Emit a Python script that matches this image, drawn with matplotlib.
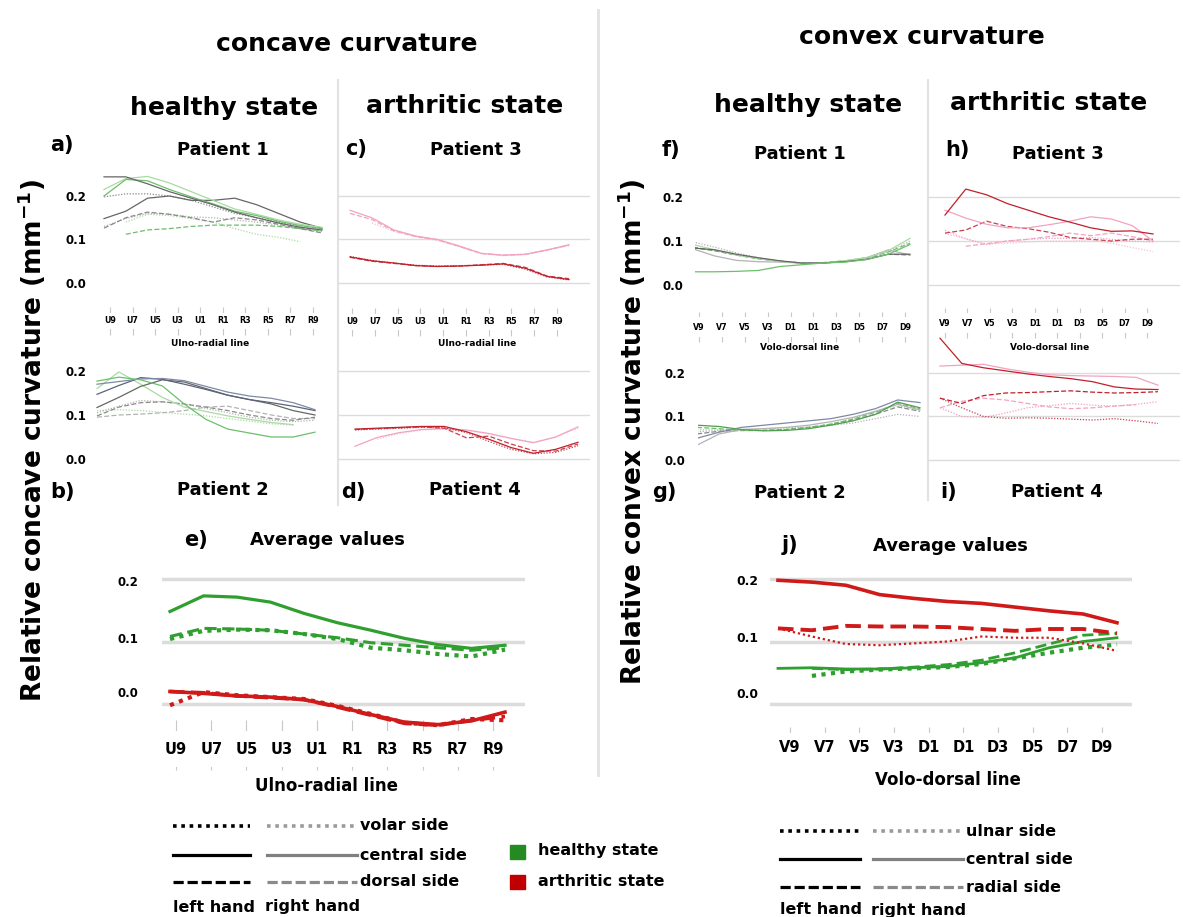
import numpy as np
import matplotlib.pyplot as plt
from matplotlib.patches import Rectangle

plt.rcParams['font.family'] = ['DejaVu Sans']
plt.rcParams['font.weight'] = 'bold'
plt.rcParams['mathtext.default'] = 'bf'

nan = np.nan

# axis labels
ur_ticks = ['U9', 'U7', 'U5', 'U3', 'U1', 'R1', 'R3', 'R5', 'R7', 'R9']
vd_ticks = ['V9', 'V7', 'V5', 'V3', 'D1', 'D1', 'D3', 'D5', 'D7', 'D9']
y_ticks = [0.0, 0.1, 0.2]
y_labels = ['0.0', '0.1', '0.2']

# a) concave, healthy, patient 1
a1 = [0.244, 0.244, 0.228, 0.210, 0.195, 0.180, 0.163, 0.150, 0.138, 0.128, 0.122]
a2 = [0.200, 0.238, 0.235, 0.215, 0.198, 0.182, 0.165, 0.155, 0.142, 0.132, 0.125]
a3 = [0.215, 0.240, 0.245, 0.230, 0.210, 0.190, 0.170, 0.158, 0.145, 0.135, 0.128]
a4 = [0.148, 0.165, 0.195, 0.200, 0.190, 0.190, 0.195, 0.180, 0.160, 0.140, 0.126]
a5 = [0.198, 0.205, 0.205, 0.200, 0.190, 0.175, 0.160, 0.150, 0.140, 0.130, 0.120]
a6 = [0.126, 0.150, 0.163, 0.158, 0.150, 0.140, 0.150, 0.145, 0.135, 0.125, 0.115]
a7 = [nan, 0.112, 0.122, 0.125, 0.130, 0.133, 0.133, 0.133, 0.130, 0.125, 0.120]
a8 = [nan, 0.140, 0.158, 0.155, 0.148, 0.140, 0.125, 0.112, 0.105, 0.095, nan]
a9 = [0.130, 0.148, 0.160, 0.158, 0.152, 0.150, 0.145, 0.140, 0.133, 0.125, 0.117]

# b) concave, healthy, patient 2
b1 = [0.177, 0.186, 0.180, 0.166, 0.125, 0.090, 0.068, 0.059, 0.050, 0.050, 0.061]
b2 = [0.160, 0.198, 0.170, 0.140, 0.118, 0.108, 0.098, 0.090, 0.083, 0.078, nan]
b3 = [0.147, 0.167, 0.185, 0.181, 0.170, 0.158, 0.145, 0.135, 0.128, 0.120, 0.110]
b4 = [0.170, 0.176, 0.182, 0.183, 0.178, 0.165, 0.152, 0.143, 0.138, 0.128, 0.112]
b5 = [0.117, 0.140, 0.165, 0.180, 0.175, 0.160, 0.145, 0.135, 0.125, 0.110, 0.100]
b6 = [0.098, 0.118, 0.128, 0.130, 0.125, 0.118, 0.110, 0.100, 0.092, 0.088, 0.095]
b7 = [0.095, 0.100, 0.102, 0.105, 0.110, 0.118, 0.120, 0.110, 0.100, 0.092, 0.092]
b8 = [0.105, 0.120, 0.133, 0.130, 0.125, 0.115, 0.105, 0.095, 0.088, 0.085, 0.088]
b9 = [0.110, 0.112, 0.110, 0.106, 0.102, 0.098, 0.092, 0.086, 0.080, 0.077, nan]

# c) concave, arthritic, patient 3
c1 = [0.167, 0.150, 0.122, 0.108, 0.100, 0.085, 0.068, 0.064, 0.066, 0.076, 0.088]
c2 = [0.160, 0.146, 0.120, 0.107, 0.099, 0.084, 0.068, 0.064, 0.066, 0.076, 0.087]
c3 = [nan, 0.138, 0.119, 0.106, 0.098, 0.083, 0.067, 0.063, 0.065, 0.075, 0.086]
c4 = [0.060, 0.051, 0.046, 0.040, 0.038, 0.039, 0.041, 0.044, 0.034, 0.015, 0.008]
c5 = [0.059, 0.050, 0.045, 0.040, 0.038, 0.039, 0.042, 0.045, 0.036, 0.016, 0.010]
c6 = [0.061, 0.052, 0.046, 0.041, 0.039, 0.040, 0.041, 0.043, 0.032, 0.014, 0.007]

# d) concave, arthritic, patient 4
d1 = [0.068, 0.070, 0.072, 0.074, 0.074, 0.062, 0.045, 0.026, 0.013, 0.022, 0.038]
d2 = [0.029, 0.049, 0.060, 0.067, 0.069, 0.066, 0.058, 0.047, 0.037, 0.050, 0.073]
d3 = [0.067, 0.069, 0.071, 0.073, 0.070, 0.048, 0.052, 0.034, 0.019, 0.018, 0.034]
d4 = [0.066, 0.068, 0.070, 0.072, 0.071, 0.060, 0.040, 0.022, 0.012, 0.015, 0.030]
d5 = [nan, 0.045, 0.058, 0.066, 0.068, 0.065, 0.057, 0.046, 0.038, 0.050, 0.070]

# e) concave averages
e_h_central = [0.148, 0.173, 0.171, 0.163, 0.145, 0.130, 0.118, 0.105, 0.095, 0.089, 0.094]
e_h_dorsal = [0.108, 0.121, 0.120, 0.118, 0.112, 0.106, 0.098, 0.094, 0.090, 0.086, 0.090]
e_h_volar = [0.104, 0.117, 0.119, 0.118, 0.112, 0.104, 0.090, 0.086, 0.080, 0.076, 0.087]
e_a_central = [0.020, 0.017, 0.013, 0.011, 0.007, -0.004, -0.017, -0.029, -0.033, -0.027, -0.013]
e_a_dorsal = [0.020, 0.018, 0.013, 0.010, 0.007, -0.005, -0.018, -0.031, -0.034, -0.026, -0.020]
e_a_volar = [-0.002, 0.019, 0.014, 0.011, 0.008, -0.003, -0.016, -0.030, -0.034, -0.024, -0.026]

# f) convex, healthy, patient 1
f1 = [0.030, 0.030, 0.031, 0.033, 0.042, 0.046, 0.050, 0.052, 0.058, 0.070, 0.092]
f2 = [0.084, 0.080, 0.070, 0.062, 0.055, 0.050, 0.050, 0.053, 0.058, 0.070, 0.070]
f3 = [0.082, 0.066, 0.056, 0.053, 0.052, 0.050, 0.050, 0.054, 0.062, 0.080, 0.068]
f4 = [0.086, 0.078, 0.068, 0.060, 0.054, 0.050, 0.050, 0.054, 0.060, 0.070, 0.068]
f5 = [0.098, 0.086, 0.073, 0.062, 0.054, 0.050, 0.050, 0.054, 0.062, 0.076, 0.100]
f6 = [0.092, 0.080, 0.068, 0.060, 0.054, 0.050, 0.050, 0.055, 0.062, 0.078, 0.106]
f7 = [0.085, 0.078, 0.068, 0.060, 0.054, 0.050, 0.051, 0.055, 0.062, 0.075, 0.095]

# g) convex, healthy, patient 2
g1 = [0.080, 0.077, 0.070, 0.067, 0.068, 0.072, 0.080, 0.090, 0.105, 0.133, 0.120]
g2 = [0.050, 0.064, 0.075, 0.080, 0.085, 0.090, 0.095, 0.105, 0.118, 0.138, 0.132]
g3 = [0.034, 0.060, 0.070, 0.072, 0.075, 0.080, 0.088, 0.098, 0.112, 0.128, 0.115]
g4 = [0.060, 0.066, 0.068, 0.068, 0.070, 0.075, 0.082, 0.092, 0.105, 0.122, 0.112]
g5 = [0.075, 0.072, 0.068, 0.068, 0.070, 0.074, 0.082, 0.094, 0.110, 0.130, 0.118]
g6 = [0.065, 0.068, 0.070, 0.072, 0.074, 0.076, 0.080, 0.085, 0.095, 0.105, 0.100]
g7 = [0.070, 0.070, 0.067, 0.068, 0.071, 0.075, 0.083, 0.095, 0.110, 0.125, 0.115]

# h) convex, arthritic, patient 3
h1 = [0.159, 0.218, 0.205, 0.185, 0.170, 0.155, 0.143, 0.130, 0.122, 0.123, 0.116]
h2 = [0.170, 0.152, 0.138, 0.130, 0.130, 0.137, 0.145, 0.155, 0.150, 0.135, 0.100]
h3 = [0.118, 0.125, 0.145, 0.133, 0.128, 0.120, 0.108, 0.104, 0.100, 0.104, 0.104]
h4 = [0.124, 0.105, 0.092, 0.100, 0.104, 0.106, 0.106, 0.108, 0.104, 0.100, 0.098]
h5 = [0.117, 0.105, 0.093, 0.095, 0.098, 0.100, 0.100, 0.102, 0.095, 0.085, 0.076]
h6 = [nan, 0.088, 0.094, 0.100, 0.104, 0.110, 0.118, 0.112, 0.118, 0.110, 0.100]

# i) convex, arthritic, patient 4
i1 = [0.280, 0.222, 0.212, 0.205, 0.198, 0.192, 0.187, 0.180, 0.168, 0.163, 0.162]
i2 = [0.216, 0.218, 0.220, 0.210, 0.202, 0.196, 0.194, 0.193, 0.192, 0.190, 0.172]
i3 = [0.142, 0.130, 0.148, 0.154, 0.155, 0.157, 0.159, 0.156, 0.154, 0.155, 0.157]
i4 = [0.120, 0.135, 0.142, 0.138, 0.130, 0.122, 0.118, 0.120, 0.124, 0.127, nan]
i5 = [0.142, 0.120, 0.100, 0.096, 0.097, 0.096, 0.094, 0.092, 0.095, 0.090, 0.084]
i6 = [0.120, 0.100, 0.098, 0.108, 0.120, 0.125, 0.130, 0.126, 0.124, 0.128, 0.134]

# j) convex averages
j_h_central = [0.057, 0.058, 0.056, 0.056, 0.058, 0.060, 0.066, 0.074, 0.090, 0.100, 0.106]
j_h_radial = [nan, 0.057, 0.055, 0.056, 0.059, 0.063, 0.070, 0.082, 0.096, 0.110, 0.113]
j_h_ulnar = [nan, 0.045, 0.052, 0.055, 0.057, 0.059, 0.064, 0.073, 0.082, 0.090, 0.095]
j_a_central = [0.198, 0.195, 0.190, 0.175, 0.169, 0.164, 0.161, 0.155, 0.149, 0.144, 0.130]
j_a_radial = [0.121, 0.118, 0.125, 0.124, 0.124, 0.123, 0.120, 0.117, 0.120, 0.120, 0.113]
j_a_ulnar = [0.121, 0.108, 0.096, 0.094, 0.097, 0.100, 0.108, 0.106, 0.106, 0.097, 0.085]

W, H = 1183, 917
fig = plt.figure(figsize=(W / 100, H / 100), dpi=100)
bg = fig.add_axes([0, 0, 1, 1])
bg.set_xlim(0, W)
bg.set_ylim(H, 0)
bg.axis('off')

LS = {'-': '-', '--': (0, (4, 1.8)), ':': (0, (1, 1.3))}
GRID = '#dcdcdc'


def panel(x0, x1, top, bot, zero, ppu, grid_lw=1.0):
    # axes placed in pixel units, y in data units
    ax = fig.add_axes([x0 / W, 1 - bot / H, (x1 - x0) / W, (bot - top) / H])
    ax.set_facecolor('none')
    ax.set_xlim(x0, x1)
    ax.set_ylim((zero - bot) / ppu, (zero - top) / ppu)
    for s in ax.spines.values():
        s.set_visible(False)
    ax.set_xticks([])
    ax.set_yticks([])
    ax.set_yticks(y_ticks, minor=True)
    ax.grid(which='minor', axis='y', color=GRID, lw=grid_lw)
    ax.tick_params(which='both', length=0)
    return ax


def draw(ax, xs, xe, series, lw=0.9):
    for vals, color, ls in series:
        x = np.linspace(xs, xe, len(vals))
        ax.plot(x, vals, color=color, ls=LS[ls], lw=lw, dash_capstyle='butt')


def xlabels(ax, t0, t9, labels, size, length, direction='inout', box=0.5, shift=0):
    ax.set_xticks(np.linspace(t0, t9, len(labels)), labels, fontsize=size, va='center',
                  bbox=dict(boxstyle='square,pad=%s' % box, fc='white', ec='none'))
    pad = (-length / 2 if direction == 'inout' else 0) + shift
    ax.tick_params(axis='x', which='major', direction=direction, length=length,
                   color='#c8c8c8', width=0.8, pad=pad)


def ylabels(ax, pos, size, pad):
    ax.set_yticks(pos, y_labels, fontsize=size)
    ax.tick_params(axis='y', which='major', length=0, pad=pad)


G_D, G_M, G_L = '#4f9f4f', '#6cbf6c', '#a9dba2'
K_D, K_M, K_L = '#666666', '#8a8a8a', '#b3b3b3'
SLATE, BLUEG = '#5a6478', '#7d8aa5'
R_D, R_M, PINK, PINK_L = '#c0202a', '#c8404e', '#f2a2c2', '#f6c2d4'

# ---- concave small panels
ax = panel(92, 338, 150, 321, 283, 435)
draw(ax, 104, 322, [(a9, K_L, ':'), (a5, K_M, ':'), (a8, G_L, ':'), (a7, G_M, '--'),
                    (a6, K_M, '--'), (a4, K_D, '-'), (a3, G_L, '-'), (a2, G_M, '-'),
                    (a1, K_D, '-')])
xlabels(ax, 110, 313, ur_ticks, 5.7, 19.5, box=0.5)
ylabels(ax, y_ticks, 8.5, 4.3)

ax = panel(92, 338, 355, 470, 459, 440)
draw(ax, 97, 315, [(b9, G_L, ':'), (b8, K_L, ':'), (b7, K_L, '--'), (b6, K_M, '--'),
                   (b2, G_L, '-'), (b5, K_D, '-'), (b3, SLATE, '-'), (b4, BLUEG, '-'),
                   (b1, G_M, '-')])
ylabels(ax, y_ticks, 8.5, 4.3)

ax = panel(338, 590, 150, 322, 283, 435)
draw(ax, 350, 569, [(c3, PINK_L, ':'), (c2, PINK, '--'), (c1, PINK, '-'),
                    (c6, R_M, ':'), (c5, R_M, '--'), (c4, R_D, '-')])
xlabels(ax, 352, 557, ur_ticks, 5.7, 19.5, box=0.5)

ax = panel(338, 590, 355, 470, 459, 440)
draw(ax, 355, 578, [(d5, PINK_L, ':'), (d2, PINK, '-'), (d4, R_M, ':'),
                    (d3, R_M, '--'), (d1, R_D, '-')])

# ---- convex small panels
ax = panel(695, 928, 150, 327, 285, 440)
draw(ax, 693, 910, [(f5, K_L, ':'), (f7, G_M, '--'), (f4, K_M, '--'), (f3, K_L, '-'),
                    (f6, G_L, '-'), (f2, K_D, '-'), (f1, G_M, '-')])
xlabels(ax, 699, 905, vd_ticks, 5.7, 21.5, box=0.75)
ylabels(ax, y_ticks, 8.5, 8.6)

ax = panel(698, 928, 340, 470, 460, 435)
draw(ax, 697, 920, [(g6, K_L, ':'), (g7, G_L, ':'), (g4, K_M, '--'), (g5, G_M, '--'),
                    (g3, K_L, '-'), (g2, BLUEG, '-'), (g1, G_D, '-')])
ylabels(ax, y_ticks, 8.5, 9.3)

ax = panel(928, 1180, 150, 323, 285, 440)
draw(ax, 945, 1153, [(h5, PINK_L, ':'), (h4, PINK, ':'), (h6, PINK, '--'),
                     (h3, R_M, '--'), (h2, PINK, '-'), (h1, R_D, '-')])
xlabels(ax, 945, 1147, vd_ticks, 5.7, 21.5, box=0.75)

ax = panel(928, 1180, 330, 470, 460, 435)
draw(ax, 940, 1158, [(i6, PINK, ':'), (i4, PINK, '--'), (i5, R_M, ':'),
                     (i3, R_D, '--'), (i2, PINK, '-'), (i1, R_D, '-')])

# ---- average panels
GREEN, RED = '#2f9f2f', '#d01a1a'
ax = panel(162, 525, 560, 745, 704, 625, grid_lw=2.5)
for vals, color, ls, lw in [(e_h_volar, GREEN, ':', 3.0), (e_h_dorsal, GREEN, '--', 2.2),
                            (e_h_central, GREEN, '-', 2.3), (e_a_volar, RED, ':', 3.0),
                            (e_a_dorsal, RED, '--', 2.6), (e_a_central, RED, '-', 2.6)]:
    draw(ax, 170, 505, [(vals, color, ls)], lw=lw)
xlabels(ax, 176, 493, ur_ticks, 10.5, 36, box=0.75, shift=2.9)
ylabels(ax, [0.019, 0.106, 0.197], 8.5, 17)

ax = panel(770, 1132, 560, 747, 704, 625, grid_lw=2.5)
for vals, color, ls, lw in [(j_h_ulnar, GREEN, ':', 3.0), (j_h_radial, GREEN, '--', 2.0),
                            (j_h_central, GREEN, '-', 2.0), (j_a_ulnar, RED, ':', 1.6),
                            (j_a_radial, RED, '--', 2.8), (j_a_central, RED, '-', 2.6)]:
    draw(ax, 778, 1117, [(vals, color, ls)], lw=lw)
xlabels(ax, 790, 1102, vd_ticks, 10.5, 14.4, direction='in', box=0.45)
ylabels(ax, [0.018, 0.107, 0.198], 8.8, 8.6)

# ---- separators
SEP = '#e2e2e2'
bg.plot([598, 598], [10, 775], color=SEP, lw=2)
bg.plot([338, 338], [80, 505], color=SEP, lw=1.5)
bg.plot([928, 928], [80, 500], color=SEP, lw=1.5)

# ---- titles
def txt(x, y, s, size, ha='center', **kw):
    bg.text(x, y, s, fontsize=size, ha=ha, va='center', **kw)

txt(347, 44, 'concave curvature', 18)
txt(922, 37, 'convex curvature', 18)
txt(224, 108, 'healthy state', 18)
txt(465, 106, 'arthritic state', 18)
txt(808, 105, 'healthy state', 18)
txt(1049, 103, 'arthritic state', 18)

for x, y, s in [(50, 145, 'a)'), (345, 149, 'c)'), (50, 492, 'b)'), (341, 492, 'd)'),
                (662, 150, 'f)'), (945, 150, 'h)'), (652, 492, 'g)'), (940, 492, 'i)'),
                (184, 540, 'e)'), (782, 545, 'j)')]:
    txt(x, y, s, 15, ha='left')

for x, y, s in [(223, 150, 'Patient 1'), (476, 150, 'Patient 3'), (223, 490, 'Patient 2'),
                (475, 490, 'Patient 4'), (800, 154, 'Patient 1'), (1058, 154, 'Patient 3'),
                (800, 493, 'Patient 2'), (1057, 492, 'Patient 4'),
                (327, 540, 'Average values'), (950, 546, 'Average values')]:
    txt(x, y, s, 13)

txt(210, 343, 'Ulno-radial line', 6.5)
txt(477, 343, 'Ulno-radial line', 6.5)
txt(800, 347, 'Volo-dorsal line', 6.5)
txt(1050, 347, 'Volo-dorsal line', 6.5)
txt(327, 786, 'Ulno-radial line', 12)
txt(948, 780, 'Volo-dorsal line', 12)

txt(32, 440, 'Relative concave curvature (mm$^{-1}$)', 19, rotation=90)
txt(632, 432, 'Relative convex curvature (mm$^{-1}$)', 19, rotation=90)

# ---- legends
def legend(x0, x1, x2, x3, rows, names, yh):
    styles = [(LS[':'], 2.6, '#000000', '#9a9a9a'),
              ('-', 2.3, '#000000', '#808080'),
              ((0, (3.2, 1.2)), 2.3, '#000000', '#8a8a8a')]
    for y, name, (ls, lw, c1, c2) in zip(rows, names, styles):
        bg.plot([x0, x1], [y, y], color=c1, ls=ls, lw=lw, dash_capstyle='butt')
        bg.plot([x2, x3], [y, y], color=c2, ls=ls, lw=lw, dash_capstyle='butt')
        txt(x3 + 3, y, name, 11.5, ha='left')
    txt(x0, yh, 'left hand', 11.5, ha='left')
    txt(x2 - 2, yh, 'right hand', 11.5, ha='left')

legend(173, 250, 267, 357, [826, 855, 882], ['volar side', 'central side', 'dorsal side'], 907)
legend(780, 860, 873, 963, [831, 859, 887], ['ulnar side', 'central side', 'radial side'], 910)

bg.add_patch(Rectangle((510, 845), 15, 14, color='#238b22'))
bg.add_patch(Rectangle((510, 875), 15, 14, color='#c00000'))
txt(538, 851, 'healthy state', 11.5, ha='left')
txt(538, 881, 'arthritic state', 11.5, ha='left')

fig.savefig('out.png', dpi=100)
